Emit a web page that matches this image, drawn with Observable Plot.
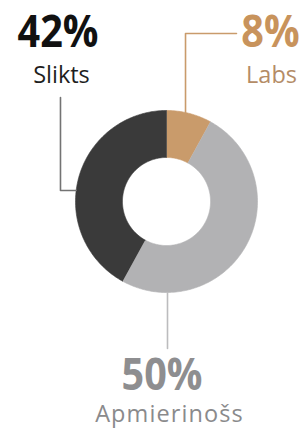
<!DOCTYPE html>
<html><head><meta charset="utf-8">
<script src="https://cdn.jsdelivr.net/npm/d3@7"></script>
<script src="https://cdn.jsdelivr.net/npm/@observablehq/plot@0.6"></script>
<style>html,body{margin:0;padding:0;background:#fff;} svg{display:block}</style>
</head><body><div id="chart"></div>
<script>
// ---- data ----
const labels = ["Labs", "Apmierinošs", "Slikts"];
const values = [8, 50, 42];
const valueLabels = ["8%", "50%", "42%"];

// ---- styles ----
const sliceColors = ["#c99b6b", "#b2b2b4", "#3a3a3a"];
const valueColors = ["#c8935c", "#8e8e90", "#111111"];
const nameColors  = ["#b48c66", "#8a8a8c", "#1e1e1e"];
const lineColors  = ["#c99b6b", "#bcbcbe", "#737373"];

// ---- layout (units of outer radius, origin at donut centre) ----
const W = 304, H = 429, R = 91, CX = 166, CY = 201;
const inner = 0.484;
const layout = {
  "Labs":        {leader: [[0.209, null], [0.209, 1.846], [0.769, 1.846]], num: [1.143, 1.703], name: [1.154, 1.297]},
  "Apmierinošs": {leader: [[0.011, null], [0.011, -1.615]],                num: [-0.049, -2.066], name: [0.033, -2.418]},
  "Slikts":      {leader: [[null, 0.121], [-1.165, 0.121], [-1.165, 1.143]], num: [-1.192, 1.703], name: [-1.154, 1.297]}
};

// ---- build arcs ----
const pie = d3.pie().sort(null).value(d => d.value)(labels.map((l, i) => ({label: l, value: values[i]})));
const arcPts = [];
pie.forEach(p => {
  const n = Math.max(8, Math.ceil((p.endAngle - p.startAngle) / (Math.PI / 180)));
  for (let k = 0; k <= n; k++) {
    const a = p.startAngle + (p.endAngle - p.startAngle) * k / n;
    arcPts.push({label: p.data.label, x: Math.sin(a), y: Math.cos(a)});
  }
  for (let k = n; k >= 0; k--) {
    const a = p.startAngle + (p.endAngle - p.startAngle) * k / n;
    arcPts.push({label: p.data.label, x: inner * Math.sin(a), y: inner * Math.cos(a)});
  }
});

// leaders: first point snapped onto the outer circle
const leaderPts = [];
labels.forEach((l, i) => {
  layout[l].leader.forEach(([x, y]) => {
    if (y === null) y = (l === "Apmierinošs" ? -1 : 1) * Math.sqrt(1 - x * x);
    if (x === null) x = -Math.sqrt(1 - y * y);
    leaderPts.push({label: l, x, y, color: lineColors[i]});
  });
});

const numTexts = labels.map((l, i) => ({label: l, text: valueLabels[i], x: layout[l].num[0], y: layout[l].num[1], color: valueColors[i]}));
const nameTexts = labels.map((l, i) => ({label: l, text: l, x: layout[l].name[0], y: layout[l].name[1], color: nameColors[i]}));

const plot = Plot.plot({
  width: W, height: H,
  margin: 0,
  x: {domain: [-CX / R, (W - CX) / R], axis: null},
  y: {domain: [-(H - CY) / R, CY / R], axis: null},
  color: {domain: labels, range: sliceColors},
  style: {background: "#fff", fontFamily: "'Open Sans', sans-serif"},
  marks: [
    Plot.line(arcPts, {x: "x", y: "y", z: "label", fill: "label", stroke: "label", strokeWidth: 0.6, curve: "linear"}),
    Plot.line(leaderPts, {x: "x", y: "y", z: "label", stroke: d => d.color, strokeWidth: 1.6, curve: "linear"}),
    Plot.text(numTexts, {x: "x", y: "y", text: "text", fill: d => d.color, fontSize: 44, fontWeight: 700, lineAnchor: "bottom", textAnchor: "middle"}),
    Plot.text(nameTexts, {x: "x", y: "y", text: "text", fill: d => d.color, fontSize: 23.5, fontWeight: 400, lineAnchor: "bottom", textAnchor: "middle"})
  ]
});
// narrow the bold figures (condensed look); widen the long name slightly
plot.querySelectorAll("text").forEach(t => {
  const s = t.textContent;
  if (valueLabels.includes(s)) {
    const tr = t.getAttribute("transform") || "";
    const x = t.getAttribute("x"), y = t.getAttribute("y");
    if (x !== null || y !== null) {
      t.setAttribute("transform", `${tr} translate(${+x || 0},${+y || 0}) scale(0.9,1)`);
      t.removeAttribute("x"); t.removeAttribute("y");
    } else {
      t.setAttribute("transform", `${tr} scale(0.9,1)`);
    }
  } else if (s === "Apmierinošs") {
    t.style.letterSpacing = "1.1px";
  }
});
document.getElementById("chart").append(plot);
</script>
</body></html>
